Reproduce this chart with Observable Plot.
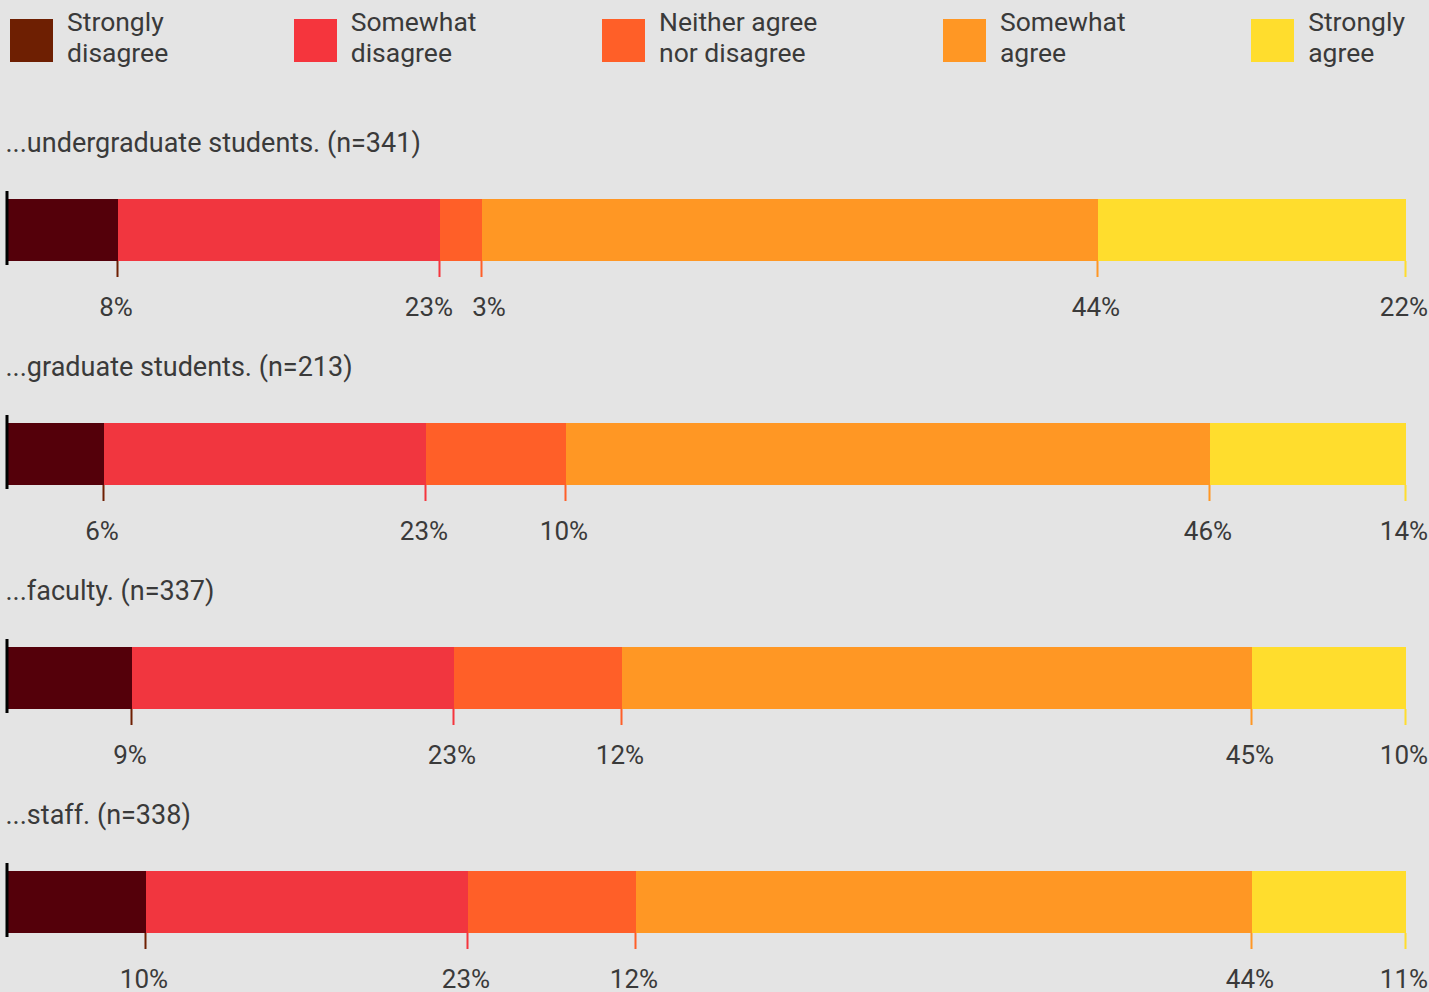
<!DOCTYPE html>
<html>
<head>
<meta charset="utf-8">
<script src="https://cdn.jsdelivr.net/npm/d3@7"></script>
<script src="https://cdn.jsdelivr.net/npm/@observablehq/plot@0.6"></script>
<style>
  html, body { margin: 0; padding: 0; background: #e4e4e4; overflow: hidden; }
  body { width: 1429px; height: 992px; position: relative; font-family: Roboto, sans-serif; color: #3a3a3a; }
  #legend { position: absolute; left: 10px; top: 6px; width: 1395px; display: flex; justify-content: space-between; }
  .item { display: flex; align-items: flex-start; }
  .sw { width: 43px; height: 43px; margin-top: 13px; margin-right: 14px; }
  .lab { font-size: 26.5px; line-height: 31px; }
  #chart { position: absolute; left: 0; top: 0; }
</style>
</head>
<body>
<div id="legend"></div>
<div id="chart"></div>
<script>
const categories = ["Strongly disagree", "Somewhat disagree", "Neither agree nor disagree", "Somewhat agree", "Strongly agree"];
const legendLines = [["Strongly", "disagree"], ["Somewhat", "disagree"], ["Neither agree", "nor disagree"], ["Somewhat", "agree"], ["Strongly", "agree"]];
const groups = ["...undergraduate students. (n=341)", "...graduate students. (n=213)", "...faculty. (n=337)", "...staff. (n=338)"];
const undergrad = [8, 23, 3, 44, 22];
const graduate = [7, 23, 10, 46, 14];
const faculty = [9, 23, 12, 45, 11];
const staff = [10, 23, 12, 44, 11];
const undergradLabels = ["8%", "23%", "3%", "44%", "22%"];
const graduateLabels = ["6%", "23%", "10%", "46%", "14%"];
const facultyLabels = ["9%", "23%", "12%", "45%", "10%"];
const staffLabels = ["10%", "23%", "12%", "44%", "11%"];

const legendColors = ["#6e1f02", "#f5353d", "#ff5f28", "#ff9724", "#ffdd2d"];
const barColors = ["#54000a", "#f1363f", "#ff5f28", "#ff9724", "#ffdd2d"];

// legend
const leg = document.getElementById("legend");
categories.forEach((c, i) => {
  const it = document.createElement("div"); it.className = "item";
  const sw = document.createElement("div"); sw.className = "sw"; sw.style.background = legendColors[i];
  const lb = document.createElement("div"); lb.className = "lab"; lb.innerHTML = legendLines[i].join("<br>");
  it.appendChild(sw); it.appendChild(lb); leg.appendChild(it);
});

const seriesVals = [undergrad, graduate, faculty, staff];
const seriesLabs = [undergradLabels, graduateLabels, facultyLabels, staffLabels];
const pxPerUnit = 14;      // 1400px range over 0..100
const minGap = 60 / pxPerUnit; // minimum spacing between label centres (in x units)
const rows = [];
groups.forEach((g, gi) => {
  let acc = 0;
  const gr = [];
  seriesVals[gi].forEach((v, ci) => {
    gr.push({group: g, cat: categories[ci], x1: acc, x2: acc + v, lx: acc + v, label: seriesLabs[gi][ci], ci});
    acc += v;
  });
  // simple collision avoidance for labels
  for (let i = 1; i < gr.length; i++) {
    const gap = gr[i].lx - gr[i - 1].lx;
    if (gap < minGap) {
      const push = (minGap - gap) / 2;
      gr[i - 1].lx -= push;
      gr[i].lx += push;
    }
  }
  rows.push(...gr);
});
const starts = groups.map(g => ({group: g, x: 0}));

const plot = Plot.plot({
  width: 1429,
  height: 1016,
  marginTop: 120,
  marginBottom: 0,
  marginLeft: 6,
  marginRight: 23,
  style: {background: "transparent", fontFamily: "Roboto, sans-serif"},
  x: {domain: [0, 100], axis: null},
  fy: {domain: groups, axis: null, padding: 0},
  color: {domain: categories, range: barColors},
  marks: [
    Plot.barX(rows, {x1: "x1", x2: "x2", fy: "group", fill: "cat", insetTop: 79, insetBottom: 83}),
    Plot.tickX(rows, {x: "x2", fy: "group", stroke: d => legendColors[d.ci], strokeWidth: 2, dx: -1, insetTop: 141, insetBottom: 67}),
    Plot.tickX(starts, {x: "x", fy: "group", stroke: "#000", strokeWidth: 3, dx: 0.5, insetTop: 71, insetBottom: 79}),
    Plot.text(groups, {fy: d => d, text: d => d, frameAnchor: "top-left", lineAnchor: "middle", dy: 23, dx: -1, fontSize: 27, fill: "#3a3a3a"}),
    Plot.text(rows, {x: "lx", fy: "group", text: "label", frameAnchor: "top", lineAnchor: "middle", textAnchor: "middle", dy: 187, dx: -2.5, fontSize: 26, fill: "#3a3a3a"})
  ]
});
document.getElementById("chart").appendChild(plot);
</script>
</body>
</html>
